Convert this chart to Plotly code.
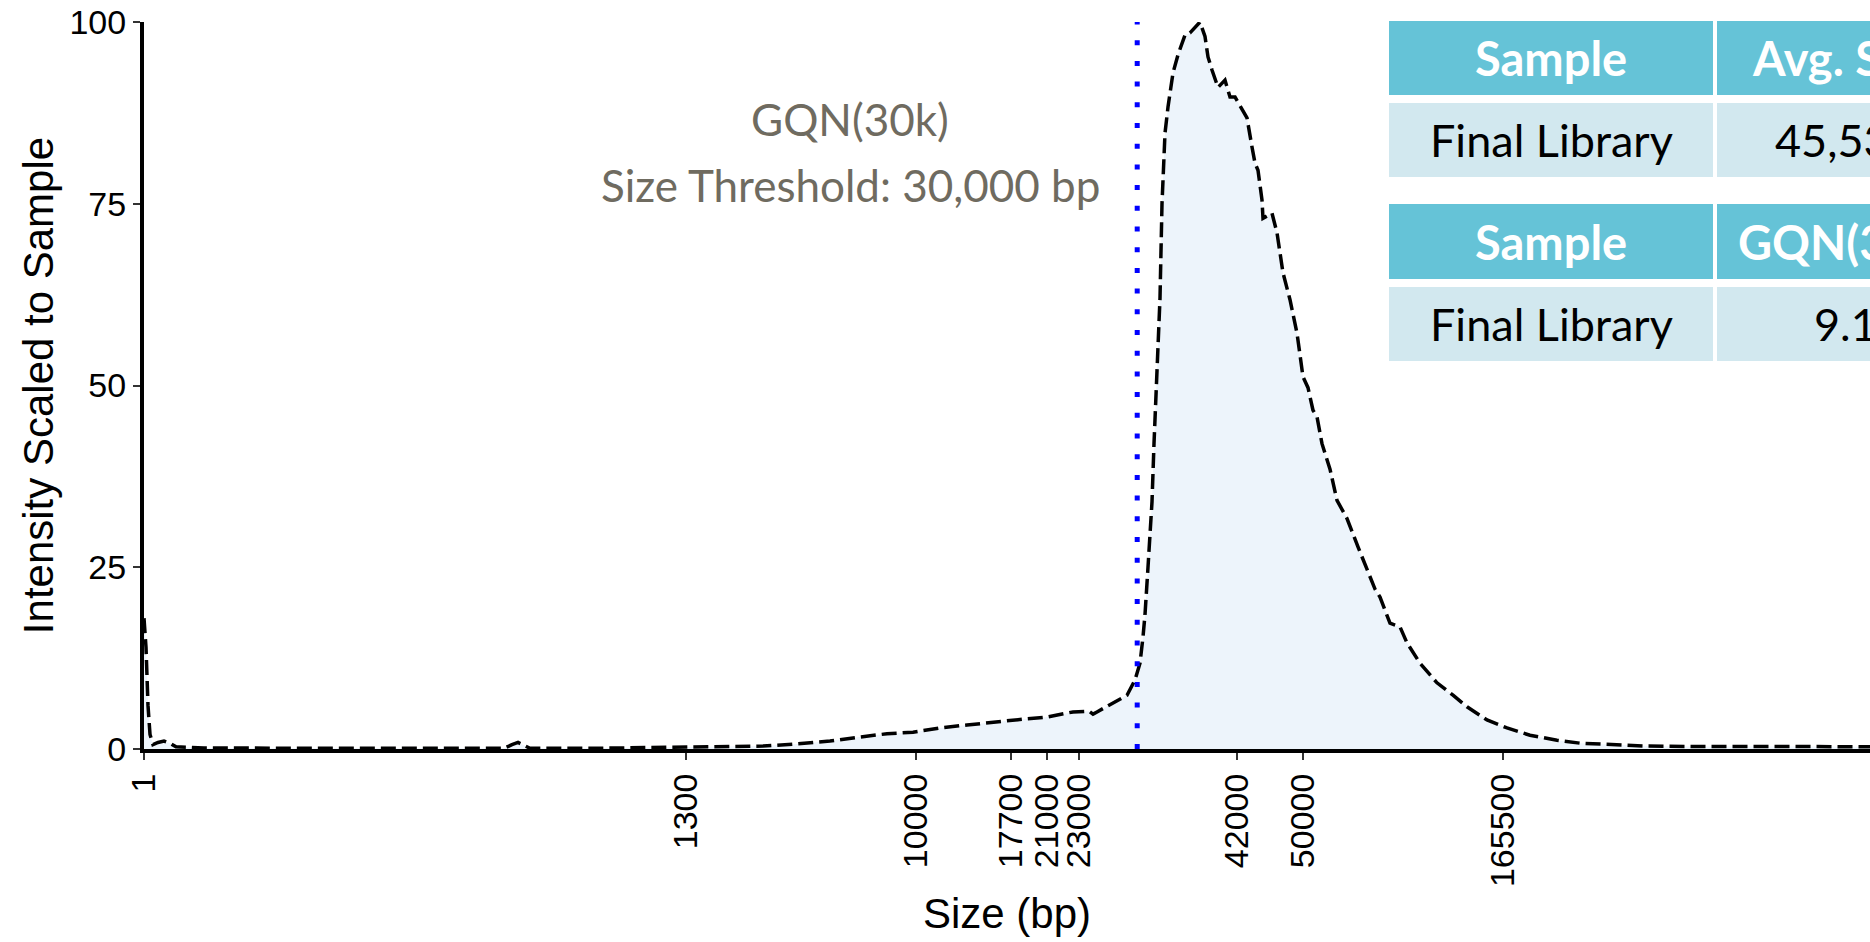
import numpy as np
import plotly.graph_objects as go

# ---------------- data ----------------
ladder_sizes = [1, 1300, 10000, 17700, 21000, 23000, 42000, 50000, 165500]
ladder_positions = [0, 542, 772, 867, 903, 935, 1093, 1159, 1359]
tick_labels = [str(s) for s in ladder_sizes]

migration = [0, 2, 4, 6, 9, 14, 20, 26, 32, 60, 150, 300, 360, 368, 374, 380, 386, 450,
             536, 580, 619, 653, 686, 713, 743, 769, 796, 823, 849, 879, 903, 929, 945, 949,
             953, 969, 983, 991, 996, 999, 1001, 1004, 1008, 1010, 1013, 1016, 1018, 1021,
             1024, 1029, 1034, 1041, 1046, 1051, 1056, 1061, 1064, 1068, 1074, 1081, 1086,
             1091, 1098, 1103, 1108, 1111, 1114, 1118, 1119, 1128, 1133, 1139, 1146, 1153,
             1159, 1164, 1169, 1173, 1178, 1186, 1193, 1203, 1214, 1223, 1231, 1236, 1246,
             1256, 1263, 1276, 1293, 1309, 1323, 1343, 1363, 1386, 1413, 1436, 1469, 1503,
             1550, 1600, 1650, 1726]
intensity = [18, 14, 6, 2, 0.6, 0.9, 1.1, 0.8, 0.3, 0.15, 0.1, 0.1, 0.1, 0.6, 0.9, 0.5, 0.1, 0.1,
             0.2, 0.3, 0.4, 0.7, 1.1, 1.6, 2.1, 2.3, 2.9, 3.3, 3.7, 4.1, 4.4, 5.1, 5.2, 4.8,
             5.1, 6.3, 7.4, 9.5, 11.8, 15.4, 18.5, 25, 34, 42, 52, 62, 75, 84.7,
             88.3, 93, 95.5, 98.2, 98.5, 99.3, 100, 98, 95.2, 93.4, 91, 92, 89.7,
             89.7, 87.9, 86.8, 82.8, 80.6, 79.6, 75.5, 73, 73.7, 71, 65.5, 61.8, 57.2,
             51.2, 49.7, 46.6, 45.7, 42, 38.5, 34.2, 31.7, 27.8, 24.6, 22, 20.9, 17.3,
             16.8, 14.6, 11.8, 9.1, 7.4, 5.8, 4.0, 2.9, 1.9, 1.2, 0.8, 0.55, 0.4,
             0.35, 0.3, 0.35, 0.3]

threshold_bp = 30000
threshold_pos = float(np.interp(threshold_bp, ladder_sizes, ladder_positions))

y_ticks = [0, 25, 50, 75, 100]

table1_header = ["Sample", "Avg. Size"]
table1_row = ["Final Library", "45,536"]
table2_header = ["Sample", "GQN(30k)"]
table2_row = ["Final Library", "9.1"]

# ---------------- layout geometry ----------------
W, H = 1870, 942
ML, MR, MT, MB = 144, 0, 22, 193


def pxx(p):
    return (p - ML) / (W - ML - MR)


def pxy(p):
    return (H - MB - p) / (H - MT - MB)


fig = go.Figure()

fig.add_trace(go.Scatter(
    x=migration, y=intensity, mode="lines",
    line=dict(color="black", width=3.5, dash="15px,6px"),
    fill="tozeroy", fillcolor="rgba(237,244,251,1)",
    hoverinfo="skip", showlegend=False,
))

fig.add_trace(go.Scatter(
    x=[threshold_pos, threshold_pos], y=[0, 100], mode="lines",
    line=dict(color="#0000FF", width=5, dash="5px,15.7px"),
    hoverinfo="skip", showlegend=False,
))

# annotation text near threshold
for txt, ypx in (("GQN(30k)", 119), ("Size Threshold: 30,000 bp", 185)):
    fig.add_annotation(x=pxx(850), y=pxy(ypx), xref="paper", yref="paper",
                       xanchor="center", yanchor="middle",
                       text=txt, showarrow=False,
                       font=dict(family="Lato", size=44, color="#6f6b60"))

# tables
HEAD = "#65C3D7"
BODY = "#D2E8EF"
col_edges = [(1389, 1713), (1717, 1975)]
row_edges = [(21, 95), (103, 177), (204, 279), (287, 361)]
rows = [(table1_header, HEAD, True), (table1_row, BODY, False),
        (table2_header, HEAD, True), (table2_row, BODY, False)]
col_centers = [1551, 1845]
for (y0, y1), (cells, color, is_head) in zip(row_edges, rows):
    for ci, (x0, x1) in enumerate(col_edges):
        fig.add_shape(type="rect", xref="paper", yref="paper",
                      x0=pxx(x0), x1=pxx(x1), y0=pxy(y1), y1=pxy(y0),
                      fillcolor=color, line=dict(width=0), layer="above")
        fig.add_annotation(x=pxx(col_centers[ci]), y=pxy((y0 + y1) / 2),
                           xref="paper", yref="paper", showarrow=False,
                           xanchor="center", yanchor="middle",
                           text=("<b>%s</b>" % cells[ci]) if is_head else cells[ci],
                           font=dict(family="Lato", size=47 if is_head else 45,
                                     color="white" if is_head else "black"))

axis_font = dict(family="Liberation Sans, Arial", size=34, color="black")
title_font = dict(family="Liberation Sans, Arial", size=42, color="black")

fig.update_xaxes(
    range=[0, 1726], tickmode="array", tickvals=ladder_positions, ticktext=tick_labels,
    tickangle=-90, tickfont=axis_font, ticks="outside", ticklen=7, tickwidth=2,
    tickcolor="#333333", showline=True, linecolor="black", linewidth=4,
    showgrid=False, zeroline=False,
    title=dict(text="Size (bp)", font=title_font, standoff=14),
)
fig.update_yaxes(
    range=[0, 100], tickmode="array", tickvals=y_ticks, tickfont=axis_font,
    ticks="outside", ticklen=7, tickwidth=2, tickcolor="#333333",
    showline=True, linecolor="black", linewidth=4, showgrid=False, zeroline=False,
    title=dict(text="Intensity Scaled to Sample", font=title_font, standoff=4),
)

fig.update_layout(
    width=W, height=H, autosize=False,
    margin=dict(l=ML, r=MR, t=MT, b=MB, pad=0),
    plot_bgcolor="white", paper_bgcolor="white",
)

fig.write_html("out.html", config={"displayModeBar": False},
               post_script="document.body.style.margin='0px';")
